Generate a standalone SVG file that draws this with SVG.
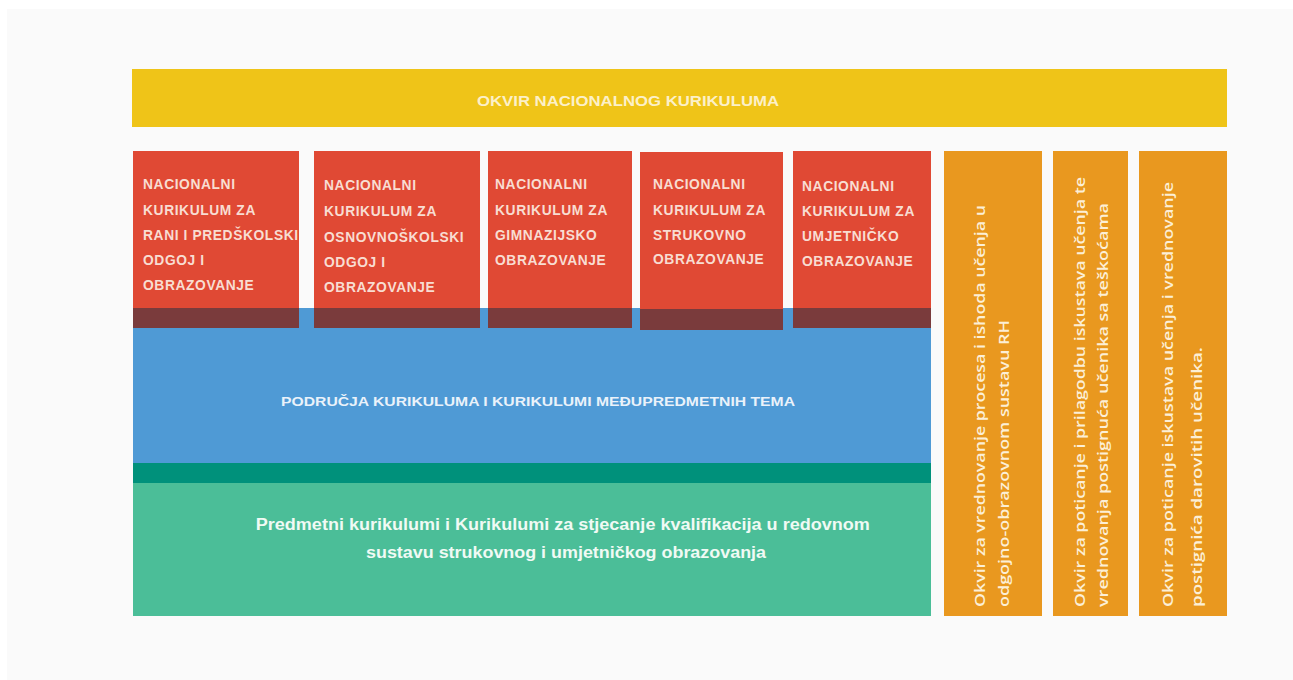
<svg xmlns="http://www.w3.org/2000/svg" width="1293" height="680" viewBox="0 0 1293 680">
<style>
.red{fill:#e04934}
.band{fill:#7a3b3c}
.org{fill:#e9981f}
.rt{font-family:"Liberation Sans",Arial,sans-serif;font-weight:bold;font-size:13.8px;fill:#f8ddd2;letter-spacing:0.6px}
.ot{font-family:"Open Sans","Liberation Sans",sans-serif;font-weight:600;font-size:15px;fill:#fcefd6}
</style>
<rect x="0" y="0" width="1293" height="680" fill="#ffffff"/>
<rect x="7" y="9" width="1286" height="671" fill="#fafafa"/>
<g id="okvir">
<rect x="132" y="69" width="1095" height="58" fill="#efc418"/>
<text x="628" y="106" text-anchor="middle" font-family="'Liberation Sans',Arial,sans-serif" font-weight="bold" font-size="14" fill="#fcf0c8" textLength="302" lengthAdjust="spacingAndGlyphs">OKVIR NACIONALNOG KURIKULUMA</text>
</g>
<g id="podrucja">
<rect x="133" y="308" width="798" height="155" fill="#4f9ad5"/>
<text x="538" y="406" text-anchor="middle" font-family="'Liberation Sans',Arial,sans-serif" font-weight="bold" font-size="13" fill="#eaf2fa" textLength="514" lengthAdjust="spacingAndGlyphs">PODRUČJA KURIKULUMA I KURIKULUMI MEĐUPREDMETNIH TEMA</text>
</g>
<g id="predmetni">
<rect x="133" y="463" width="798" height="20" fill="#00917b"/>
<rect x="133" y="483" width="798" height="133" fill="#4bbe98"/>
<text font-family="'Liberation Sans',Arial,sans-serif" font-weight="bold" font-size="16" fill="#f0faf4" text-anchor="middle">
<tspan x="565" y="530" textLength="614" lengthAdjust="spacingAndGlyphs">Predmetni kurikulumi i Kurikulumi za stjecanje kvalifikacija u redovnom</tspan>
<tspan x="566" y="558" textLength="400" lengthAdjust="spacingAndGlyphs">sustavu strukovnog i umjetničkog obrazovanja</tspan>
</text>
</g>
<g id="nk-rani">
<rect class="red" x="133" y="151" width="166" height="177"/>
<rect class="band" x="133" y="308" width="166" height="20"/>
<text class="rt"><tspan x="143" y="189">NACIONALNI</tspan><tspan x="143" y="215">KURIKULUM ZA</tspan><tspan x="143" y="240">RANI I PREDŠKOLSKI</tspan><tspan x="143" y="265">ODGOJ I</tspan><tspan x="143" y="290">OBRAZOVANJE</tspan></text>
</g>
<g id="nk-osnovno">
<rect class="red" x="314" y="151" width="166" height="177"/>
<rect class="band" x="314" y="308" width="166" height="20"/>
<text class="rt"><tspan x="324" y="190">NACIONALNI</tspan><tspan x="324" y="216">KURIKULUM ZA</tspan><tspan x="324" y="242">OSNOVNOŠKOLSKI</tspan><tspan x="324" y="267">ODGOJ I</tspan><tspan x="324" y="292">OBRAZOVANJE</tspan></text>
</g>
<g id="nk-gimnazijsko">
<rect class="red" x="488" y="151" width="144" height="177"/>
<rect class="band" x="488" y="308" width="144" height="20"/>
<text class="rt"><tspan x="495" y="189">NACIONALNI</tspan><tspan x="495" y="215">KURIKULUM ZA</tspan><tspan x="495" y="240">GIMNAZIJSKO</tspan><tspan x="495" y="265">OBRAZOVANJE</tspan></text>
</g>
<g id="nk-strukovno">
<rect class="red" x="640" y="152" width="143" height="178"/>
<rect class="band" x="640" y="309" width="143" height="21"/>
<text class="rt"><tspan x="653" y="189">NACIONALNI</tspan><tspan x="653" y="215">KURIKULUM ZA</tspan><tspan x="653" y="240">STRUKOVNO</tspan><tspan x="653" y="264">OBRAZOVANJE</tspan></text>
</g>
<g id="nk-umjetnicko">
<rect class="red" x="793" y="151" width="138" height="177"/>
<rect class="band" x="793" y="308" width="138" height="20"/>
<text class="rt"><tspan x="802" y="191">NACIONALNI</tspan><tspan x="802" y="216">KURIKULUM ZA</tspan><tspan x="802" y="241">UMJETNIČKO</tspan><tspan x="802" y="266">OBRAZOVANJE</tspan></text>
</g>
<g id="okvir-vrednovanje">
<rect class="org" x="944" y="151" width="98" height="465"/>
<text class="ot" transform="translate(985,607) rotate(-90)" x="0" y="0" textLength="402" lengthAdjust="spacingAndGlyphs">Okvir za vrednovanje procesa i ishoda učenja u</text>
<text class="ot" transform="translate(1009,607) rotate(-90)" x="0" y="0" textLength="287" lengthAdjust="spacingAndGlyphs">odgojno-obrazovnom sustavu RH</text>
</g>
<g id="okvir-teskoce">
<rect class="org" x="1053" y="151" width="75" height="465"/>
<text class="ot" transform="translate(1085,607) rotate(-90)" x="0" y="0" textLength="430" lengthAdjust="spacingAndGlyphs">Okvir za poticanje i prilagodbu iskustava učenja te</text>
<text class="ot" transform="translate(1108,607) rotate(-90)" x="0" y="0" textLength="404" lengthAdjust="spacingAndGlyphs">vrednovanja postignuća učenika sa teškoćama</text>
</g>
<g id="okvir-daroviti">
<rect class="org" x="1139" y="151" width="88" height="465"/>
<text class="ot" transform="translate(1173,607) rotate(-90)" x="0" y="0" textLength="425" lengthAdjust="spacingAndGlyphs">Okvir za poticanje iskustava učenja i vrednovanje</text>
<text class="ot" transform="translate(1202,607) rotate(-90)" x="0" y="0" textLength="260" lengthAdjust="spacingAndGlyphs">postignića darovitih učenika.</text>
</g>
<g id="connectors"></g>
</svg>
